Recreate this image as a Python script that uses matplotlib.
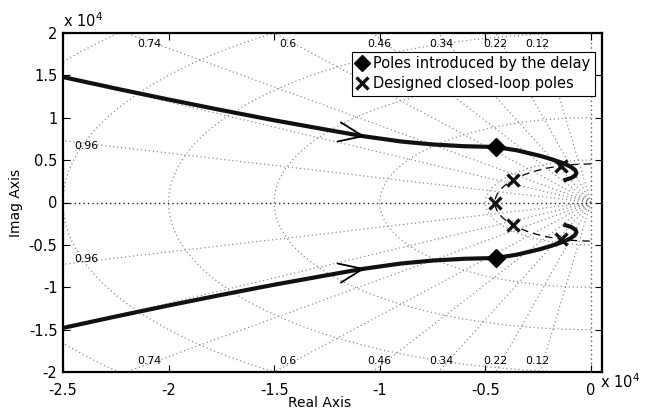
import numpy as np
import matplotlib
matplotlib.use("Agg")
import matplotlib.pyplot as plt
from matplotlib.ticker import FuncFormatter, FixedLocator

# ---------------- data ----------------
branch_real = [-25000, -22500, -20000, -17500, -15000, -12500, -10800, -9000,
               -7500, -6000, -4500, -3500, -2400, -1800, -1300, -950, -760,
               -690, -740, -950, -1310]
branch_imag = [14800, 13450, 12150, 10900, 9700, 8580, 7830, 7200,
               6850, 6640, 6550, 6150, 5500, 5050, 4620, 4200, 3850,
               3500, 3200, 2880, 2600]
upper_branch = (branch_real, branch_imag)
lower_branch = (branch_real, [-v for v in branch_imag])

delay_poles_real = [-4500, -4500]
delay_poles_imag = [6550, -6550]

designed_real = [-4550, -3680, -3680, -1410, -1410]
designed_imag = [0, 2670, -2670, 4330, -4330]

design_radius = 4550          # dashed circle through the designed poles
arrow_at_real = -10800        # where the direction arrows sit

zeta_values = [0.12, 0.22, 0.34, 0.46, 0.6, 0.74, 0.86, 0.96]
zeta_labels = ["0.12", "0.22", "0.34", "0.46", "0.6", "0.74", "", "0.96"]
wn_values = [5000, 10000, 15000, 20000, 25000, 30000]

xticks = [-25000, -20000, -15000, -10000, -5000, 0]
yticks = [-20000, -15000, -10000, -5000, 0, 5000, 10000, 15000, 20000]
xlim = (-25000, 520)
ylim = (-20000, 20000)

legend_labels = ["Poles introduced by the delay", "Designed closed-loop poles"]

# ---------------- figure ----------------
plt.rcParams['font.family'] = ['DejaVu Sans']
fig = plt.figure(figsize=(6.5, 4.16), dpi=100)
ax = fig.add_axes([63 / 650, 44 / 416, 539 / 650, 339 / 416])
ax.set_xlim(*xlim)
ax.set_ylim(*ylim)

grid_col = '#8e8e8e'
dot = (0, (1, 2.2))

# damping rays
R = 60000
for z in zeta_values:
    wd = np.sqrt(1 - z * z)
    for s in (1, -1):
        ax.plot([0, -R * z], [0, s * R * wd], color=grid_col, lw=0.9,
                linestyle=dot, zorder=1)
# real & imaginary axes (zeta = 1 and 0)
ax.plot([0, -R], [0, 0], color='#222222', lw=1.0, linestyle=dot, zorder=1)
ax.plot([0, 0], [-R, R], color='#555555', lw=1.0, linestyle=dot, zorder=1)

# natural-frequency circles
th = np.linspace(np.pi / 2, 3 * np.pi / 2, 400)
for wn in wn_values:
    ax.plot(wn * np.cos(th), wn * np.sin(th), color=grid_col, lw=0.9,
            linestyle=dot, zorder=1)

# damping labels
ytop = 18750
for z, lab in zip(zeta_values, zeta_labels):
    if not lab:
        continue
    wd = np.sqrt(1 - z * z)
    if z < 0.9:
        xr = -ytop * z / wd - 300
        for s in (1, -1):
            ax.text(xr, s * ytop, lab, fontsize=7.8, ha='center', va='center',
                    zorder=2)
    else:
        xr = -23900
        yr = 23900 * wd / z
        for s in (1, -1):
            ax.text(xr, s * (yr - 250), lab, fontsize=7.8, ha='center',
                    va='center', zorder=2)

# dashed circle through designed poles
thd = np.linspace(np.pi / 2, 3 * np.pi / 2, 200)
ax.plot(design_radius * np.cos(thd), design_radius * np.sin(thd), color='black',
        lw=0.9, linestyle=(0, (6, 4)), zorder=3)

# root-locus branches
for bx, by in (upper_branch, lower_branch):
    ax.plot(bx, by, color='#111111', lw=3.0, solid_capstyle='butt',
            solid_joinstyle='round', zorder=4)

# direction arrows (open chevrons) computed from the branch data
def chevron(bx, by, xa):
    order = np.argsort(bx[:11])
    xs = np.array(bx[:11])[order]
    ys = np.array(by[:11])[order]
    ya = np.interp(xa, xs, ys)
    yb = np.interp(xa - 1500, xs, ys)
    tip = ax.transData.transform((xa, ya))
    back = ax.transData.transform((xa - 1500, yb))
    d = back - tip
    d = d / np.hypot(*d)
    L = 26
    for ang in (np.radians(22), -np.radians(22)):
        c, s = np.cos(ang), np.sin(ang)
        v = np.array([c * d[0] - s * d[1], s * d[0] + c * d[1]]) * L
        p = ax.transData.inverted().transform(tip + v)
        ax.plot([p[0], xa], [p[1], ya], color='black', lw=1.3, zorder=5,
                solid_capstyle='round')

chevron(*upper_branch, arrow_at_real)
chevron(*lower_branch, arrow_at_real)

# markers
h1, = ax.plot(delay_poles_real, delay_poles_imag, linestyle='none', marker='D',
              markersize=9, color='black', zorder=6)
h2, = ax.plot(designed_real, designed_imag, linestyle='none', marker='x',
              markersize=8, markeredgewidth=2.4, color='#111111', zorder=6)

# axes formatting
ax.xaxis.set_major_locator(FixedLocator(xticks))
ax.yaxis.set_major_locator(FixedLocator(yticks))
fmt = FuncFormatter(lambda v, p: '%g' % (v / 1e4))
ax.xaxis.set_major_formatter(fmt)
ax.yaxis.set_major_formatter(fmt)
ax.tick_params(direction='in', length=5, width=0.8, top=True, right=True,
               labelsize=10.5, colors='black')
ax.tick_params(axis='x', pad=8)
ax.tick_params(axis='y', pad=4)
for sp in ax.spines.values():
    sp.set_linewidth(1.6)

ax.set_xlabel('Real Axis', fontsize=10)
ax.set_ylabel('Imag Axis', fontsize=10, labelpad=4)
ax.xaxis.set_label_coords(0.476, -0.072)

ax.text(0.0, 1.01, r'x 10$^{4}$', transform=ax.transAxes, fontsize=10.5,
        ha='left', va='bottom')
ax.text(0.997, 0.0, r'x 10$^{4}$', transform=ax.transAxes, fontsize=10.5,
        ha='left', va='top')

leg = ax.legend([h1, h2], legend_labels, loc='upper right',
                bbox_to_anchor=(0.987, 0.944), borderaxespad=0,
                fontsize=10.5, handlelength=0.7, handletextpad=0.45,
                borderpad=0.3, labelspacing=0.35, frameon=True,
                fancybox=False, framealpha=1, edgecolor='black')
leg.get_frame().set_linewidth(0.8)
for hnd in leg.legend_handles:
    hnd.set_markersize(8)

fig.savefig('out.png', dpi=100)
